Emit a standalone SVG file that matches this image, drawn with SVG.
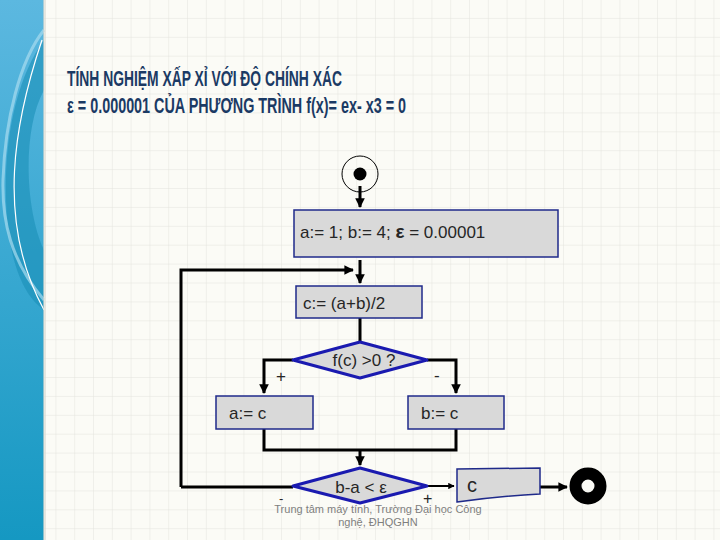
<svg xmlns="http://www.w3.org/2000/svg" width="720" height="540" viewBox="0 0 720 540">
<defs>
<pattern id="grid" x="0" y="0" width="18.8" height="18.9" patternUnits="userSpaceOnUse">
<path d="M18.8 0V18.9M0 18.9H18.8" fill="none" stroke="#e3e3dd" stroke-width="1"/>
</pattern>
<linearGradient id="band" x1="0" y1="0" x2="0" y2="1">
<stop offset="0" stop-color="#5cb8e0"/>
<stop offset="1" stop-color="#1598c2"/>
</linearGradient>
<marker id="ah" viewBox="0 0 10 10" refX="9" refY="5" markerWidth="3.2" markerHeight="3.2" orient="auto" markerUnits="strokeWidth">
<path d="M0 0L10 5L0 10z" fill="#000"/>
</marker>
<style>
.box{fill:#d9d9d9;stroke:#1f2a8a;stroke-width:1.5}
.dia{fill:#d9d9d9;stroke:#1a1ab0;stroke-width:3;stroke-linejoin:round}
.ln{fill:none;stroke:#000;stroke-width:3}
.t{font-family:"Liberation Sans",Arial,sans-serif;font-size:17px;fill:#262626}
.ttl{font-family:"Liberation Sans Narrow","Liberation Sans",Arial,sans-serif;font-weight:bold;font-size:22px;fill:#1b3a64}
.ft{font-family:"Liberation Sans",Arial,sans-serif;font-size:11px;fill:#7f7f7f}
</style>
</defs>
<rect width="720" height="540" fill="#fbfbf6"/>
<rect width="720" height="540" fill="url(#grid)"/>
<g id="band">
<rect x="0" y="0" width="44" height="540" fill="url(#band)"/>
<path d="M44 40C15 80 0 150 8 230C15 280 30 300 44 310L44 250C25 210 22 130 44 90z" fill="#1a8fb8" opacity="0.6"/>
<path d="M44 30C20 60 5 120 3 180C2 220 10 260 44 300" fill="none" stroke="#a8dcef" stroke-width="3" opacity="0.7"/>
<path d="M42 40C15 120 -5 220 44 310" fill="none" stroke="#ffffff" stroke-width="1.2"/>
<rect x="43" y="0" width="3" height="540" fill="#d8d8d0" opacity="0.6"/>
</g>
<g id="title">
<text class="ttl" x="67" y="86" textLength="275" lengthAdjust="spacingAndGlyphs">TÍNH NGHIỆM XẤP XỈ VỚI ĐỘ CHÍNH XÁC</text>
<text class="ttl" x="67" y="113" textLength="339" lengthAdjust="spacingAndGlyphs">ε = 0.000001 CỦA PHƯƠNG TRÌNH f(x)= ex- x3 = 0</text>
</g>
<g id="connectors">
<path class="ln" d="M360 186V207" marker-end="url(#ah)"/>
<path class="ln" d="M360 260V283" marker-end="url(#ah)"/>
<path class="ln" d="M181 487V270H353" marker-end="url(#ah)"/>
<path class="ln" d="M181 487H293"/>
<path class="ln" d="M360 318V342"/>
<path class="ln" d="M293 360H264V393" marker-end="url(#ah)"/>
<path class="ln" d="M427 360H456V393" marker-end="url(#ah)"/>
<path class="ln" d="M264 429V450H456V429"/>
<path class="ln" d="M360 450V465" marker-end="url(#ah)"/>
<path fill="none" stroke="#000" stroke-width="2" d="M427 486H454" marker-end="url(#ah)"/>
<path class="ln" d="M540 487H567" marker-end="url(#ah)"/>
<text class="t" x="276" y="382" style="font-size:17px">+</text>
<text class="t" x="434" y="381" style="font-size:17px">-</text>
<text class="t" x="279" y="503" style="font-size:13px">-</text>
<text class="t" x="423" y="504" style="font-size:16px">+</text>
</g>
<g id="start">
<circle cx="360" cy="174" r="18" fill="none" stroke="#000" stroke-width="1"/>
<circle cx="360" cy="174" r="6.5" fill="#000"/>
</g>
<g id="init">
<rect class="box" x="294" y="210" width="264" height="47"/>
<text class="t" x="300" y="238">a:= 1; b:= 4; <tspan style="font-weight:bold;font-size:19px">ε</tspan> = 0.00001</text>
</g>
<g id="mid">
<rect class="box" x="296" y="286" width="126" height="32"/>
<text class="t" x="303" y="309">c:= (a+b)/2</text>
</g>
<g id="cond1">
<path class="dia" d="M360 342L427 360L360 378L293 360z"/>
<text class="t" x="364" y="366" text-anchor="middle">f(c) &gt;0 ?</text>
</g>
<g id="seta">
<rect class="box" x="216" y="396" width="97" height="33"/>
<text class="t" x="229" y="419">a:= c</text>
</g>
<g id="setb">
<rect class="box" x="408" y="396" width="96" height="33"/>
<text class="t" x="421" y="419">b:= c</text>
</g>
<g id="cond2">
<path class="dia" d="M360 468L427 486L360 503L293 486z"/>
<text class="t" x="361" y="493" text-anchor="middle">b-a &lt; ε</text>
</g>
<g id="output">
<path class="box" d="M457 469L540 468L540 494Q500 496 457 502z"/>
<text class="t" x="467" y="492" style="font-size:20px">c</text>
</g>
<g id="end">
<circle cx="588" cy="486" r="12.5" fill="none" stroke="#000" stroke-width="12"/>
</g>
<g id="footer">
<text class="ft" x="378" y="513" text-anchor="middle">Trung tâm máy tính, Trường Đại học Công</text>
<text class="ft" x="378" y="526" text-anchor="middle">nghệ, ĐHQGHN</text>
</g>
</svg>
